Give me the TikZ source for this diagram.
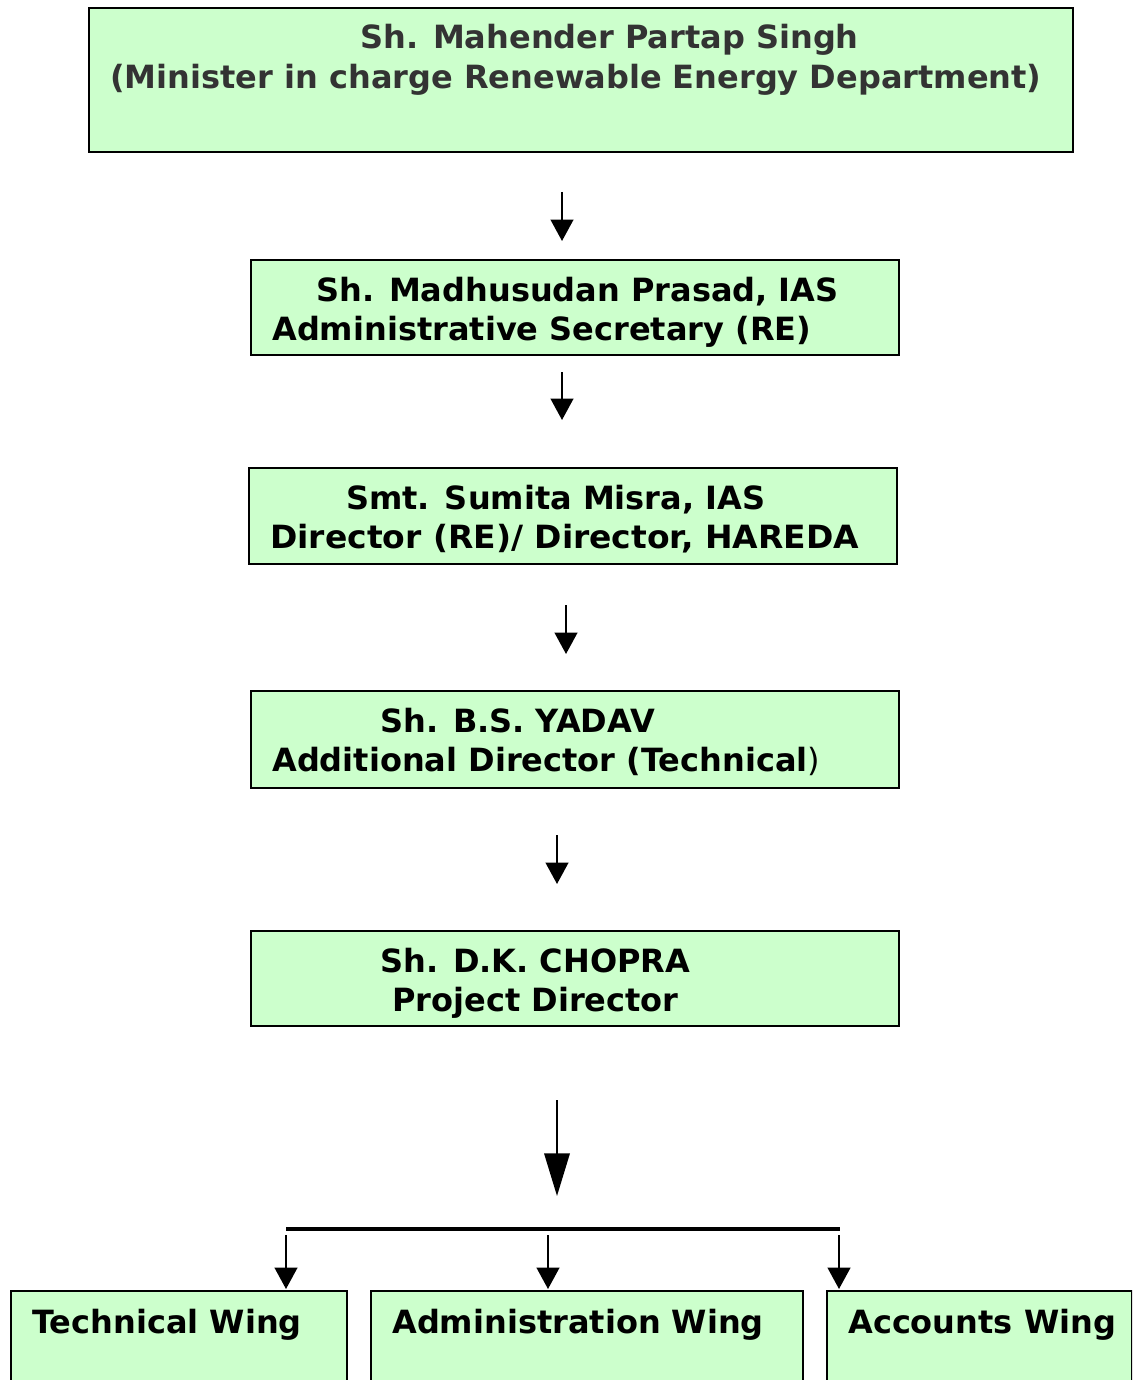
\documentclass[tikz,border=0pt]{standalone}
\usepackage{fontspec}
\setmainfont{DejaVu Sans}
\usepackage{xcolor}
\usepackage{graphicx}
\usetikzlibrary{arrows.meta,positioning}
\definecolor{boxgreen}{HTML}{CCFFCC}
\definecolor{topgray}{HTML}{333333}

\begin{document}
\begin{tikzpicture}[x=0.75pt,y=-0.75pt,
  box/.style={draw=black,fill=boxgreen,line width=1.2pt,inner sep=0pt,anchor=north west},
  lbl/.style={inner sep=0pt,anchor=base west,
    font=\fontsize{24}{28}\selectfont\bfseries},
  arr/.style={line width=1.5pt,-{Triangle[width=17pt,length=16pt]}},
  bigarr/.style={line width=1.8pt,-{Triangle[width=19pt,length=32pt]}}]

\clip (0,0) rectangle (1132,1380);

% boxes
\node[box,minimum width=738pt,minimum height=108pt] (minister) at (88,7){};
\node[box,minimum width=486pt,minimum height=71.25pt] (secretary) at (250,259){};
\node[box,minimum width=486pt,minimum height=72pt] (director) at (248,467){};
\node[box,minimum width=486pt,minimum height=72.75pt] (adddir) at (250,690){};
\node[box,minimum width=486pt,minimum height=71.25pt] (projdir) at (250,930){};
\node[box,minimum width=252pt,minimum height=90pt] (techwing) at (10,1290){};
\node[box,minimum width=324pt,minimum height=90pt] (adminwing) at (370,1290){};
\node[box,minimum width=229pt,minimum height=90pt] (accwing) at (826,1290){};

% texts
\node[lbl,text=topgray] (minister1) at (360,49){Sh. Mahender Partap Singh};
\node[lbl,text=topgray] (minister2) at (110,89){(Minister in charge Renewable Energy Department)};
\node[lbl] (secretary1) at (316,301){Sh. Madhusudan Prasad, IAS};
\node[lbl] (secretary2) at (272,340){Administrative Secretary (RE)};
\node[lbl] (director1) at (346,509){Smt. Sumita Misra, IAS};
\node[lbl] (director2) at (270,548){\scalebox{1.03}[1]{Director (RE)/ Director, HAREDA}};
\node[lbl] (adddir1) at (380,732){Sh. B.S. YADAV};
\node[lbl] (adddir2) at (272,771){Additional Director (Technical{\mdseries )}};
\node[lbl] (projdir1) at (380,972){Sh. D.K. CHOPRA};
\node[lbl] (projdir2) at (392,1011){Project Director};
\node[lbl] (techwing1) at (32,1333){Technical Wing};
\node[lbl] (adminwing1) at (392,1333){Administration Wing};
\node[lbl] (accwing1) at (848,1333){Accounts Wing};

% arrows
\coordinate (a1s) at (562,192); \coordinate (a1e) at (562,241);
\coordinate (a2s) at (562,372); \coordinate (a2e) at (562,420);
\coordinate (a3s) at (566,605); \coordinate (a3e) at (566,654);
\coordinate (a4s) at (557,835); \coordinate (a4e) at (557,884);
\coordinate (a5s) at (557,1100); \coordinate (a5e) at (557,1196);
\draw[arr] (a1s) -- (a1e);
\draw[arr] (a2s) -- (a2e);
\draw[arr] (a3s) -- (a3e);
\draw[arr] (a4s) -- (a4e);
\draw[bigarr] (a5s) -- (a5e);

% branch bar
\coordinate (barl) at (286,1229); \coordinate (barr) at (840,1229);
\draw[line width=2.6pt] (barl) -- (barr);
\coordinate (b1s) at (286,1235); \coordinate (b1e) at (286,1289);
\coordinate (b2s) at (548,1235); \coordinate (b2e) at (548,1289);
\coordinate (b3s) at (839,1235); \coordinate (b3e) at (839,1289);
\draw[arr] (b1s) -- (b1e);
\draw[arr] (b2s) -- (b2e);
\draw[arr] (b3s) -- (b3e);

\end{tikzpicture}
\end{document}
